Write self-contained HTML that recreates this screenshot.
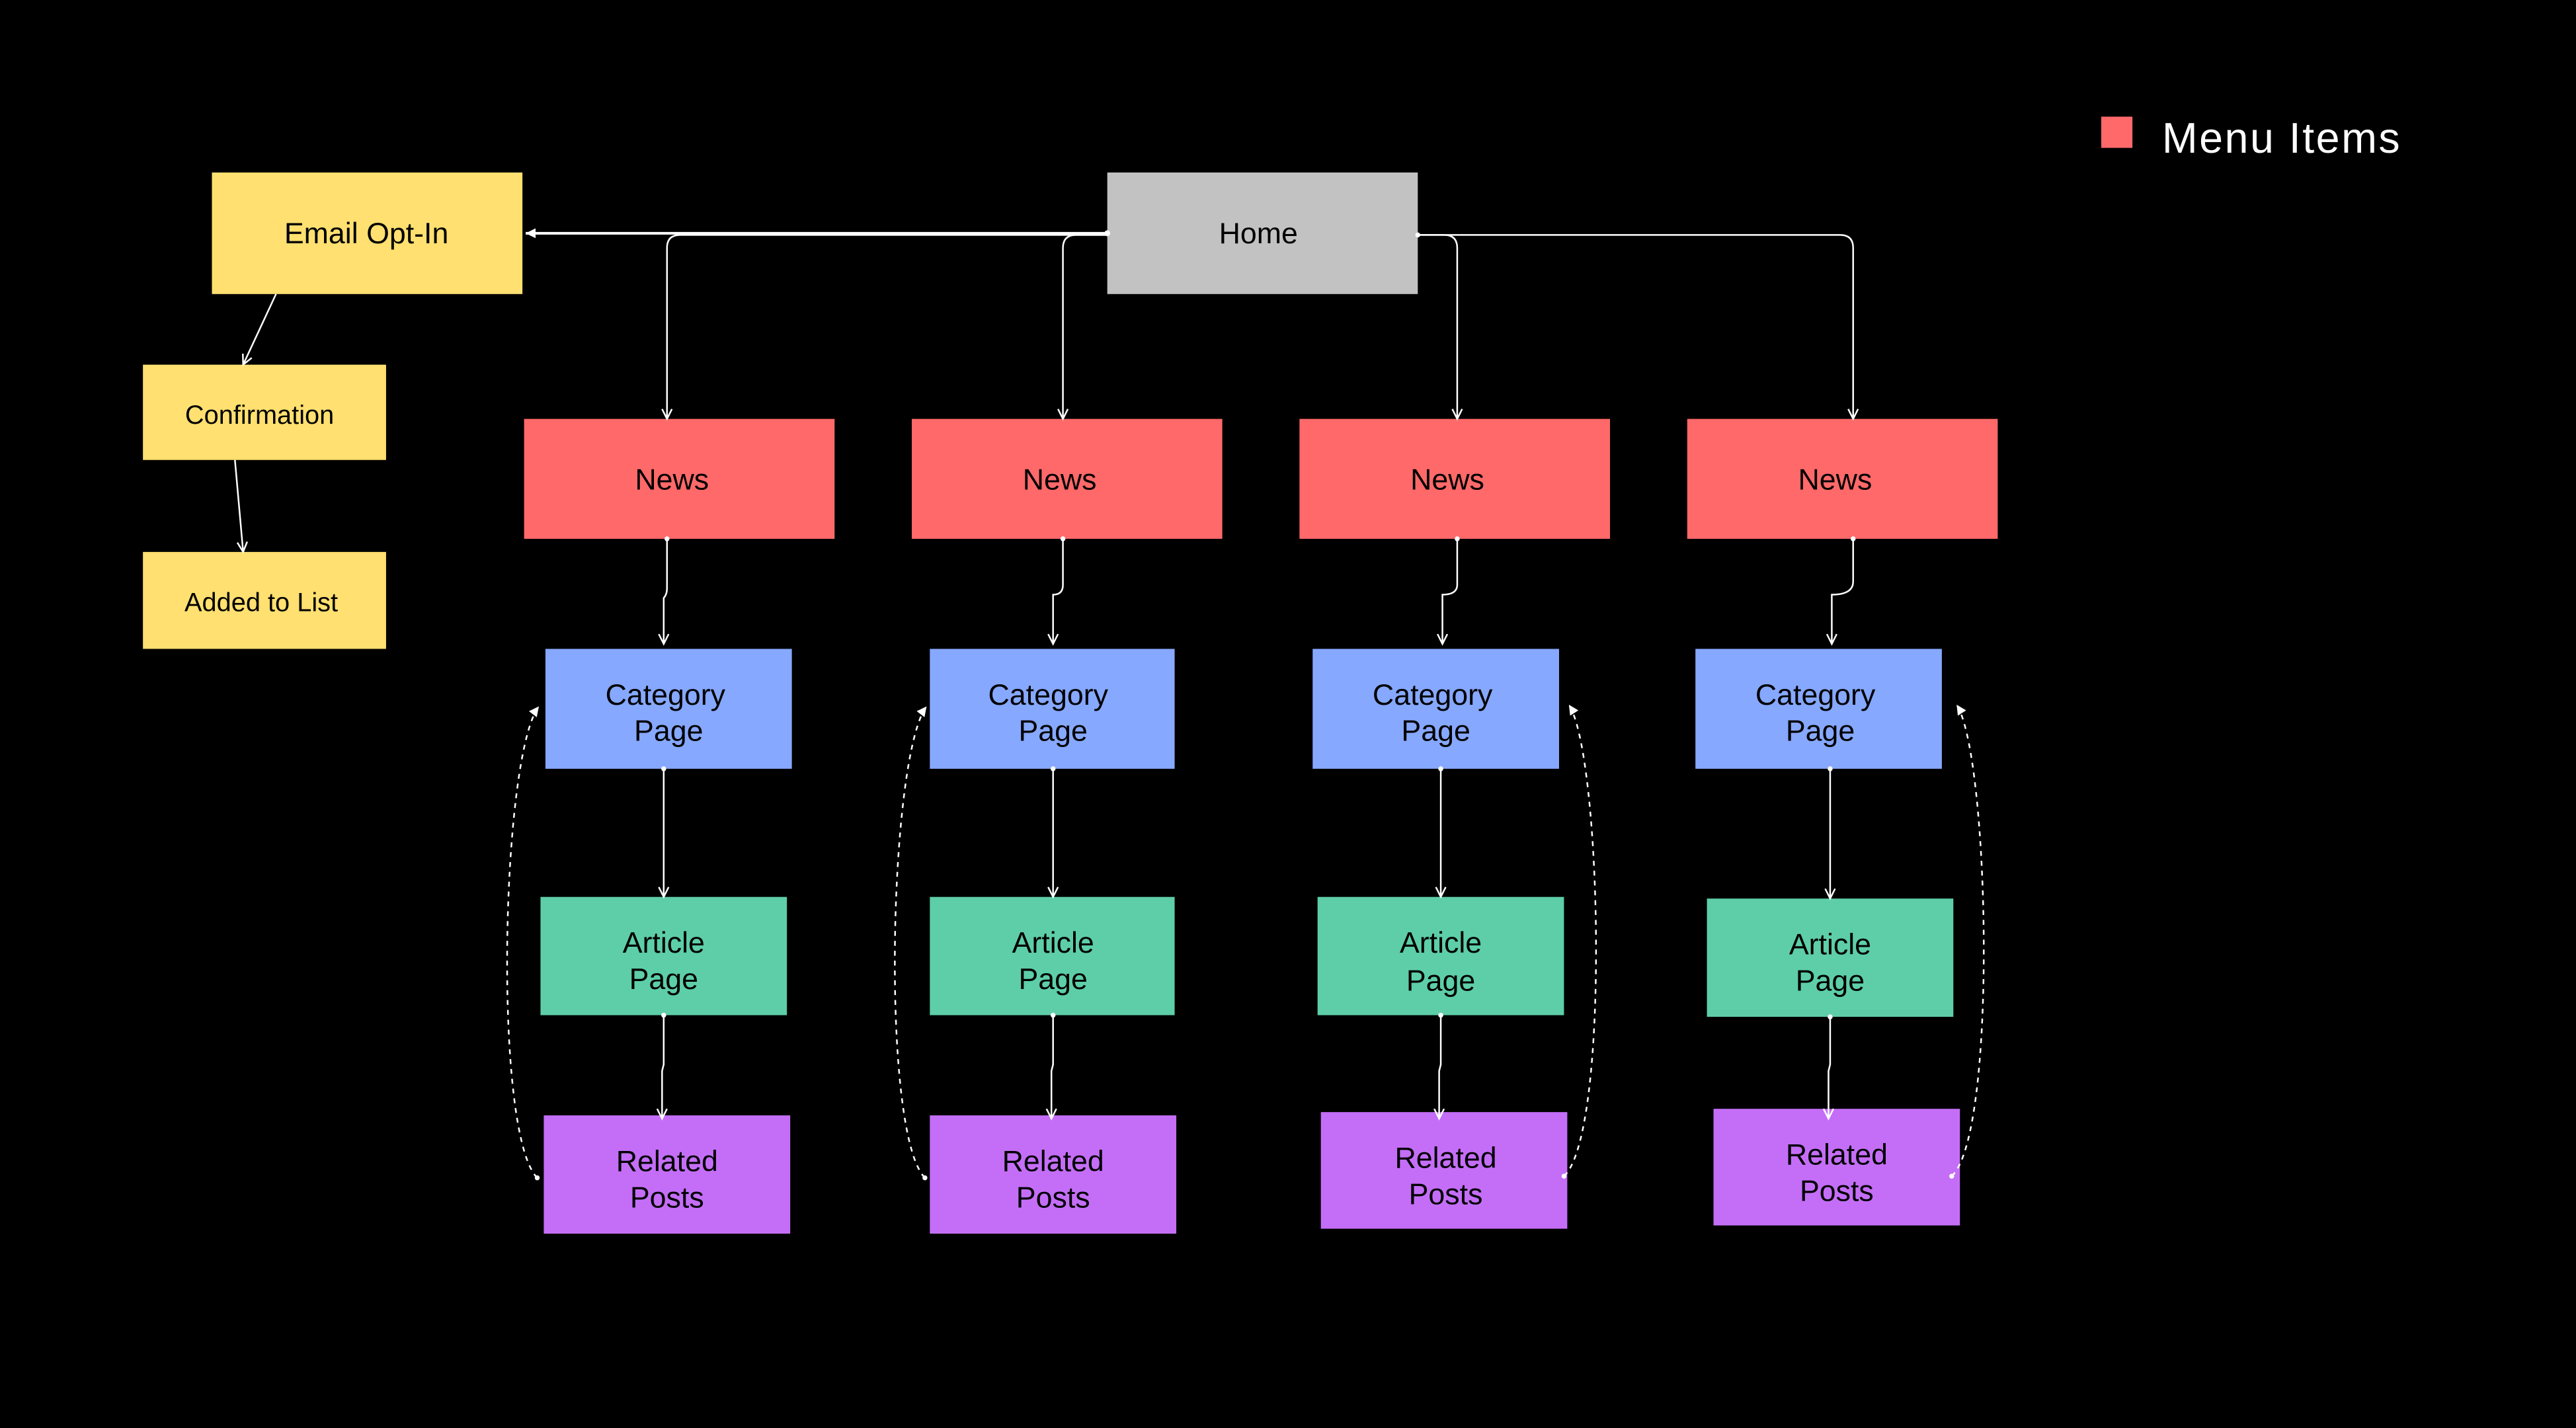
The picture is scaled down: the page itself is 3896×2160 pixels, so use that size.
<!DOCTYPE html>
<html><head><meta charset="utf-8"><style>
html,body{margin:0;padding:0;background:#000;}
svg{display:block}
text{font-family:"Liberation Sans",sans-serif;fill:#000;text-anchor:middle}
</style></head><body>
<svg width="3896" height="2160" viewBox="0 0 1568 869.3" xmlns="http://www.w3.org/2000/svg">
<defs>
<marker id="a" markerWidth="8" markerHeight="8" refX="7" refY="4" orient="auto" markerUnits="userSpaceOnUse">
<path d="M1,1 L7,4 L1,7" fill="none" stroke="#fff" stroke-width="1"/></marker>
<marker id="f" markerWidth="8" markerHeight="8" refX="7" refY="4" orient="auto" markerUnits="userSpaceOnUse">
<path d="M1,1 L7,4 L1,7 Z" fill="#fff"/></marker>
</defs>
<rect width="1568" height="870" fill="#000"/>
<g>
<rect x="129" y="105" width="189" height="74" fill="#FFE070"/>
<rect x="674" y="105" width="189" height="74" fill="#C2C2C2"/>
<rect x="87" y="222" width="148" height="58" fill="#FFE070"/>
<rect x="87" y="336" width="148" height="59" fill="#FFE070"/>
<rect x="319" y="255" width="189" height="73" fill="#FF6969"/>
<rect x="555" y="255" width="189" height="73" fill="#FF6969"/>
<rect x="791" y="255" width="189" height="73" fill="#FF6969"/>
<rect x="1027" y="255" width="189" height="73" fill="#FF6969"/>
<rect x="332" y="395" width="150" height="73" fill="#86A8FF"/>
<rect x="566" y="395" width="149" height="73" fill="#86A8FF"/>
<rect x="799" y="395" width="150" height="73" fill="#86A8FF"/>
<rect x="1032" y="395" width="150" height="73" fill="#86A8FF"/>
<rect x="329" y="546" width="150" height="72" fill="#5DCEA8"/>
<rect x="566" y="546" width="149" height="72" fill="#5DCEA8"/>
<rect x="802" y="546" width="150" height="72" fill="#5DCEA8"/>
<rect x="1039" y="547" width="150" height="72" fill="#5DCEA8"/>
<rect x="331" y="679" width="150" height="72" fill="#C46EF7"/>
<rect x="566" y="679" width="150" height="72" fill="#C46EF7"/>
<rect x="804" y="677" width="150" height="71" fill="#C46EF7"/>
<rect x="1043" y="675" width="150" height="71" fill="#C46EF7"/>
<rect x="1279" y="71" width="19" height="19" fill="#FF6969"/>
</g>
<g font-size="18">
<text x="223" y="148">Email Opt-In</text>
<text x="766" y="148">Home</text>
<text x="158" y="258" font-size="16">Confirmation</text>
<text x="159" y="372" font-size="16">Added to List</text>
<text x="409" y="298">News</text><text x="645" y="298">News</text><text x="881" y="298">News</text><text x="1117" y="298">News</text>
<text x="405" y="429">Category</text><text x="407" y="451">Page</text>
<text x="638" y="429">Category</text><text x="641" y="451">Page</text>
<text x="872" y="429">Category</text><text x="874" y="451">Page</text>
<text x="1105" y="429">Category</text><text x="1108" y="451">Page</text>
<text x="404" y="580">Article</text><text x="404" y="602">Page</text>
<text x="641" y="580">Article</text><text x="641" y="602">Page</text>
<text x="877" y="580">Article</text><text x="877" y="603">Page</text>
<text x="1114" y="581">Article</text><text x="1114" y="603">Page</text>
<text x="406" y="713">Related</text><text x="406" y="735">Posts</text>
<text x="641" y="713">Related</text><text x="641" y="735">Posts</text>
<text x="880" y="711">Related</text><text x="880" y="733">Posts</text>
<text x="1118" y="709">Related</text><text x="1118" y="731">Posts</text>
<text x="1316" y="93" font-size="26" letter-spacing="1" style="fill:#fff;text-anchor:start">Menu Items</text>
</g>
<g fill="none" stroke="#fff" stroke-width="1">
<path d="M674,142 L320,142" stroke-width="1.6" marker-end="url(#f)"/>
<path d="M674,143 L414,143 Q406,143 406,151 L406,255" marker-end="url(#a)"/>
<path d="M674,143 L655,143 Q647,143 647,151 L647,255" marker-end="url(#a)"/>
<path d="M863,143 L879,143 Q887,143 887,151 L887,255" marker-end="url(#a)"/>
<path d="M863,143 L1120,143 Q1128,143 1128,151 L1128,255" marker-end="url(#a)"/>
<path d="M168,179 L148,222" marker-end="url(#a)"/>
<path d="M143,280 L148,336" marker-end="url(#a)"/>
<path d="M406,328 L406,358 Q406,362 404,364 L404,392" marker-end="url(#a)"/>
<path d="M647,328 L647,356 Q647,362 641,362 L641,392" marker-end="url(#a)"/>
<path d="M887,328 L887,356 Q887,362 878,362 L878,392" marker-end="url(#a)"/>
<path d="M1128,328 L1128,354 Q1128,362 1115,362 L1115,392" marker-end="url(#a)"/>
<path d="M404,468 L404,546" marker-end="url(#a)"/>
<path d="M641,468 L641,546" marker-end="url(#a)"/>
<path d="M877,468 L877,546" marker-end="url(#a)"/>
<path d="M1114,468 L1114,547" marker-end="url(#a)"/>
<path d="M404,618 L404,648 L403,652 L403,681" marker-end="url(#a)"/>
<path d="M641,618 L641,648 L640,652 L640,681" marker-end="url(#a)"/>
<path d="M877,618 L877,648 L876,652 L876,681" marker-end="url(#a)"/>
<path d="M1114,619 L1114,648 L1113,652 L1113,681" marker-end="url(#a)"/>
<g stroke-dasharray="3,3">
<path d="M327,717 C300,690 305,460 328,430" marker-end="url(#f)"/>
<path d="M563,717 C536,690 541,460 564,430" marker-end="url(#f)"/>
<path d="M952,716 C980,690 975,460 955,429" marker-end="url(#f)"/>
<path d="M1188,716 C1216,690 1211,460 1191,429" marker-end="url(#f)"/>
</g>
</g>
<g fill="#fff">
<circle cx="674" cy="142" r="1.8"/><circle cx="863" cy="143" r="1.5"/>
<circle cx="406" cy="328" r="1.5"/><circle cx="647" cy="328" r="1.5"/><circle cx="887" cy="328" r="1.5"/><circle cx="1128" cy="328" r="1.5"/>
<circle cx="404" cy="468" r="1.5"/><circle cx="641" cy="468" r="1.5"/><circle cx="877" cy="468" r="1.5"/><circle cx="1114" cy="468" r="1.5"/>
<circle cx="404" cy="618" r="1.5"/><circle cx="641" cy="618" r="1.5"/><circle cx="877" cy="618" r="1.5"/><circle cx="1114" cy="619" r="1.5"/>
<circle cx="327" cy="717" r="1.5"/><circle cx="563" cy="717" r="1.5"/><circle cx="952" cy="716" r="1.5"/><circle cx="1188" cy="716" r="1.5"/>
</g>
</svg>
</body></html>
